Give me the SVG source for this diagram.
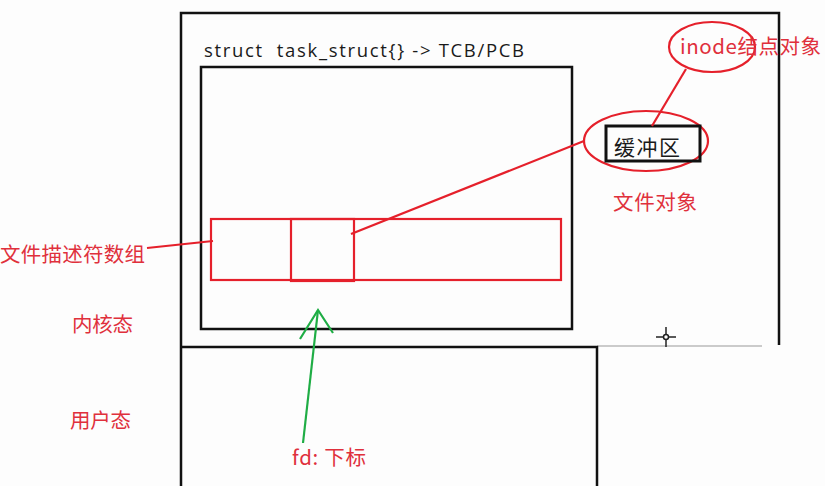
<svg xmlns="http://www.w3.org/2000/svg" width="825" height="486" viewBox="0 0 825 486">
<style>
.blk{fill:none;stroke:#111;stroke-width:2.5}
.red{fill:none;stroke:#e5202b;stroke-width:2.2}
.rt{fill:#e0303c;font-family:"Noto Sans CJK SC","Liberation Sans",sans-serif;font-size:20.5px}
.bt{fill:#1a1a1a;font-family:"Open Sans","Liberation Sans","Noto Sans CJK SC",sans-serif}
</style>
<rect width="825" height="486" fill="#fdfdfd"/>
<g id="kernel">
<path class="blk" d="M181,486 V13 H779 V345"/>
<line x1="597" y1="346" x2="762" y2="346" stroke="#999" stroke-width="1.2"/>
<text class="rt" x="72" y="332" textLength="61">内核态</text>
</g>
<g id="user">
<path class="blk" d="M181,347 H597 V486"/>
<text class="rt" x="70" y="428" textLength="61">用户态</text>
</g>
<g id="task_struct">
<rect class="blk" x="201" y="67" width="371" height="262"/>
<text class="bt" x="204" y="57" font-size="18.5" textLength="320" xml:space="preserve">struct  task_struct{} -&gt; TCB/PCB</text>
</g>
<g id="fd_array">
<rect class="red" x="211" y="219" width="350" height="61"/>
<rect class="red" x="291" y="219" width="63" height="62"/>
<text class="rt" x="0" y="262" textLength="145">文件描述符数组</text>
</g>
<g id="file_object">
<ellipse class="red" cx="646" cy="141" rx="62" ry="30"/>
<rect x="606" y="126" width="94" height="35" fill="none" stroke="#111" stroke-width="3"/>
<text class="bt" x="614" y="155" font-size="21" font-family="Noto Sans CJK SC, sans-serif" textLength="66">缓冲区</text>
<text class="rt" x="613" y="210" font-size="21" textLength="84">文件对象</text>
</g>
<g id="inode">
<ellipse class="red" cx="712" cy="47" rx="43" ry="25"/>
<text class="rt" x="680" y="54" font-size="21" textLength="141">inode结点对象</text>
</g>
<g id="fd_label">
<text class="rt" x="292" y="465" textLength="74">fd: 下标</text>
</g>
<g id="connectors">
<line class="red" x1="147" y1="248" x2="213" y2="241"/>
<line class="red" x1="584" y1="141" x2="351" y2="234"/>
<line class="red" x1="686" y1="69" x2="652" y2="126"/>
<g stroke="#1fad45" stroke-width="2.2" fill="none">
<line x1="303" y1="443" x2="318" y2="310"/>
<polyline points="300,339 318,310 333,333"/>
</g>
</g>
<g id="cursor" stroke="#222" stroke-width="1.5" fill="none">
<line x1="656" y1="337" x2="676" y2="337"/>
<line x1="666" y1="327" x2="666" y2="347"/>
<circle cx="666" cy="337" r="2.5" fill="#fff"/>
</g>
</svg>
